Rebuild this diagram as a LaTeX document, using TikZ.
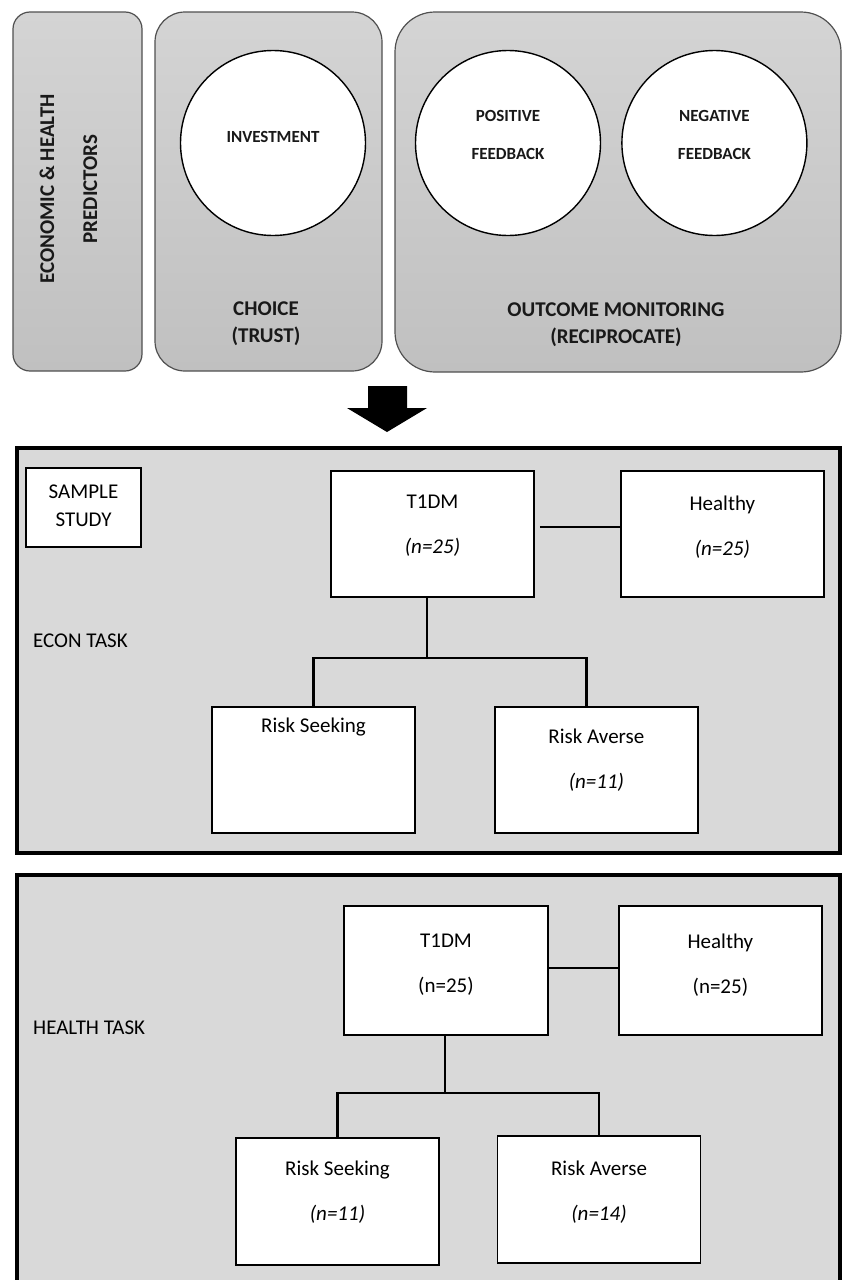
\documentclass[tikz,border=0pt]{standalone}
\usepackage{fontspec}
\setmainfont{Carlito}
\usetikzlibrary{positioning}
\definecolor{tgtop}{RGB}{212,212,212}
\definecolor{tgbot}{RGB}{192,192,192}
\definecolor{tgedge}{RGB}{80,80,80}
\definecolor{tgfill}{RGB}{217,217,217}
\tikzset{
  tgpanel/.style={draw=tgedge, line width=1.2pt, top color=tgtop, bottom color=tgbot, rounded corners=#1, inner sep=0pt},
  tgpanel/.default=20pt,
  tgcirc/.style={circle, draw=black, line width=1.4pt, fill=white, minimum size=185pt, inner sep=0pt},
  tgframebox/.style={draw=black, line width=3.2pt, fill=tgfill, minimum width=823pt, inner sep=0pt},
  tgbox/.style={draw=black, line width=1.9pt, fill=white, minimum width=203pt, minimum height=126pt, inner sep=0pt},
  tgtitle/.style={font=\fontsize{21}{27}\selectfont\bfseries, align=center, text=black!90},
  tgcirctext/.style={font=\fontsize{17}{38}\selectfont\bfseries, align=center, text=black!90},
  tgtext/.style={font=\fontsize{21}{45}\selectfont, align=center, inner sep=0pt},
  tgline/.style={line width=2.8pt, draw=black}
}
\begin{document}
\begin{tikzpicture}[x=1pt, y=-1pt]
  \path[fill=white, use as bounding box] (0,0) rectangle (842,1280);
  % top row: predictors, choice, outcome
  \node[tgpanel=17pt, minimum width=129pt, minimum height=359pt] (pred) at (77.5,191.5) {};
  \node[tgtitle, rotate=90, font=\fontsize{21}{43}\selectfont\bfseries] at (68.5,189) {ECONOMIC \& HEALTH\\PREDICTORS};
  \node[tgpanel=30pt, minimum width=227pt, minimum height=359pt] (choice) at (268.5,191.5) {};
  \node[tgcirc] (inv) at (273,143) {};
  \node[tgcirctext] at ([yshift=6pt]inv.center) {INVESTMENT};
  \node[tgtitle] at (266,323.5) {CHOICE\\(TRUST)};
  \node[tgpanel=40pt, minimum width=446pt, minimum height=360pt] (outc) at (618,192) {};
  \node[tgcirc] (pos) at (508,143) {};
  \node[tgcirc, right=20pt of pos] (neg) {};
  \node[tgcirctext] at ([yshift=8pt]pos.center) {POSITIVE\\FEEDBACK};
  \node[tgcirctext] at ([yshift=8pt]neg.center) {NEGATIVE\\FEEDBACK};
  \node[tgtitle] at (616,325) {OUTCOME MONITORING\\(RECIPROCATE)};
  % block arrow
  \fill[black] (368,386) -- (407,386) -- (407,408) -- (427,408) -- (387,432) -- (347,408) -- (368,408) -- cycle;
  % econ task
  \node[tgframebox, minimum height=405pt] (econ) at (428.5,650.5) {};
  \node[tgbox, minimum width=115pt, minimum height=79pt] (samp) at (83.5,507.5) {};
  \node[tgtext, font=\fontsize{21}{28}\selectfont] at ([yshift=2pt]samp.center) {SAMPLE\\STUDY};
  \node[tgtext, anchor=west] at (33,641) {ECON TASK};
  \node[tgbox] (t1e) at (432.5,534) {};
  \node[tgbox, right=85pt of t1e] (hle) {};
  \node[tgbox] (rse) at (313.5,770) {};
  \node[tgbox, right=78pt of rse] (rae) {};
  \node[tgtext] at ([yshift=8.5pt]t1e.center) {T1DM\\\textit{(n=25)}};
  \node[tgtext] at ([yshift=6.5pt]hle.center) {Healthy\\\textit{(n=25)}};
  \node[tgtext] at ([yshift=43pt]rse.center) {Risk Seeking};
  \node[tgtext] at ([yshift=9.5pt]rae.center) {Risk Averse\\\textit{(n=11)}};
  \draw[tgline] ([xshift=5pt,yshift=7pt]t1e.east) -- ([yshift=7pt]hle.west);
  \coordinate (je) at (427,658);
  \coordinate (raetop) at ([xshift=-10pt]rae.north);
  \draw[tgline] (t1e.south -| je) -- (je);
  \draw[tgline] (rse.north) -- (rse.north |- je) -- (raetop |- je) -- (raetop);
  % health task
  \node[tgframebox, minimum height=430pt] (health) at (428.5,1090) {};
  \node[tgtext, anchor=west] at (33,1028) {HEALTH TASK};
  \node[tgbox, minimum width=204pt, minimum height=129pt] (t1h) at (446,970.5) {};
  \node[tgbox, minimum height=129pt, right=69pt of t1h] (hlh) {};
  \node[tgbox, minimum height=127pt] (rsh) at (337.5,1201.5) {};
  \node[tgbox, minimum height=127pt] (rah) at (599,1199.5) {};
  \node[tgtext] at ([yshift=5.5pt]t1h.center) {T1DM\\(n=25)};
  \node[tgtext] at ([yshift=5.5pt]hlh.center) {Healthy\\(n=25)};
  \node[tgtext] at ([yshift=9.5pt]rsh.center) {Risk Seeking\\\textit{(n=11)}};
  \node[tgtext] at ([yshift=7.5pt]rah.center) {Risk Averse\\\textit{(n=14)}};
  \draw[tgline] ([yshift=2.5pt]t1h.east) -- ([yshift=2.5pt]hlh.west);
  \coordinate (jh) at (445,1093);
  \draw[tgline] (t1h.south -| jh) -- (jh);
  \draw[tgline] (rsh.north) -- (rsh.north |- jh) -- (rah.north |- jh) -- (rah.north);
\end{tikzpicture}
\end{document}
